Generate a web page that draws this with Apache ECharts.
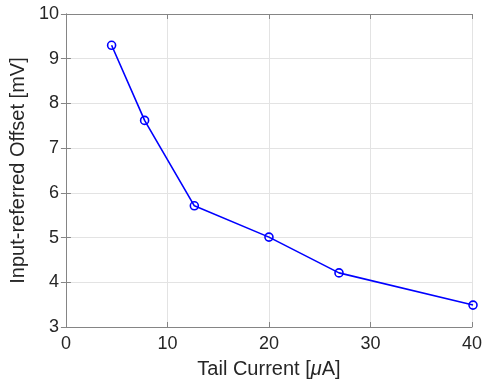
<!DOCTYPE html>
<html><head><meta charset="utf-8">
<script src="https://cdn.jsdelivr.net/npm/echarts@6/dist/echarts.min.js"></script>
<style>html,body{margin:0;padding:0;background:#fff}#c{width:485px;height:390px}</style>
</head><body><div id="c"></div>
<script>
const tailCurrent = [4.5, 7.75, 12.65, 20.0, 26.9, 40.1];
const offset = [9.30, 7.62, 5.71, 5.01, 4.21, 3.49];
const xTicks = [0, 10, 20, 30, 40];
const yTicks = [3, 4, 5, 6, 7, 8, 9, 10];

const font = 'Liberation Sans, Arial, Helvetica, sans-serif';
const axisCol = '#858585';
const textCol = '#262626';
const chart = echarts.init(document.getElementById('c'), null, {renderer: 'canvas'});
const baseX = {
  type: 'value', min: xTicks[0], max: xTicks[xTicks.length - 1], interval: 10,
  axisLine: {show: true, lineStyle: {color: axisCol, width: 1}},
  axisTick: {show: true, inside: true, length: 5, lineStyle: {color: axisCol}},
};
const baseY = {
  type: 'value', min: yTicks[0], max: yTicks[yTicks.length - 1], interval: 1,
  axisLine: {show: true, lineStyle: {color: axisCol, width: 1}},
  axisTick: {show: true, inside: true, length: 5, lineStyle: {color: axisCol}},
};
chart.setOption({
  animation: false,
  backgroundColor: '#fff',
  grid: {left: 65, right: 11, top: 14, bottom: 63},
  xAxis: [
    Object.assign({}, baseX, {
      position: 'bottom',
      name: 'Tail Current [{i|μ}A]', nameLocation: 'middle', nameGap: 32,
      nameTextStyle: {fontFamily: font, fontSize: 20, color: textCol,
        rich: {i: {fontStyle: 'italic', fontFamily: font, fontSize: 20, color: textCol}}},
      axisLabel: {fontFamily: font, fontSize: 18, color: textCol, margin: 8},
      splitLine: {show: true, lineStyle: {color: '#e3e3e3', width: 1}}
    }),
    Object.assign({}, baseX, {
      position: 'top', axisLabel: {show: false}, splitLine: {show: false}
    })
  ],
  yAxis: [
    Object.assign({}, baseY, {
      position: 'left',
      name: 'Input-referred Offset [mV]', nameLocation: 'middle', nameGap: 31,
      nameTextStyle: {fontFamily: font, fontSize: 20, color: textCol},
      axisLabel: {fontFamily: font, fontSize: 18, color: textCol, margin: 7},
      splitLine: {show: true, lineStyle: {color: '#e3e3e3', width: 1}}
    }),
    Object.assign({}, baseY, {
      position: 'right', axisLabel: {show: false}, splitLine: {show: false}
    })
  ],
  series: [{
    type: 'line',
    data: tailCurrent.map((x, i) => [x, offset[i]]),
    xAxisIndex: 0, yAxisIndex: 0,
    clip: false,
    lineStyle: {color: '#0000ff', width: 1.6},
    symbol: 'circle', symbolSize: 8,
    itemStyle: {color: 'rgba(0,0,0,0)', borderColor: '#0000ff', borderWidth: 1.6},
    showAllSymbol: true
  }]
});
</script></body></html>
